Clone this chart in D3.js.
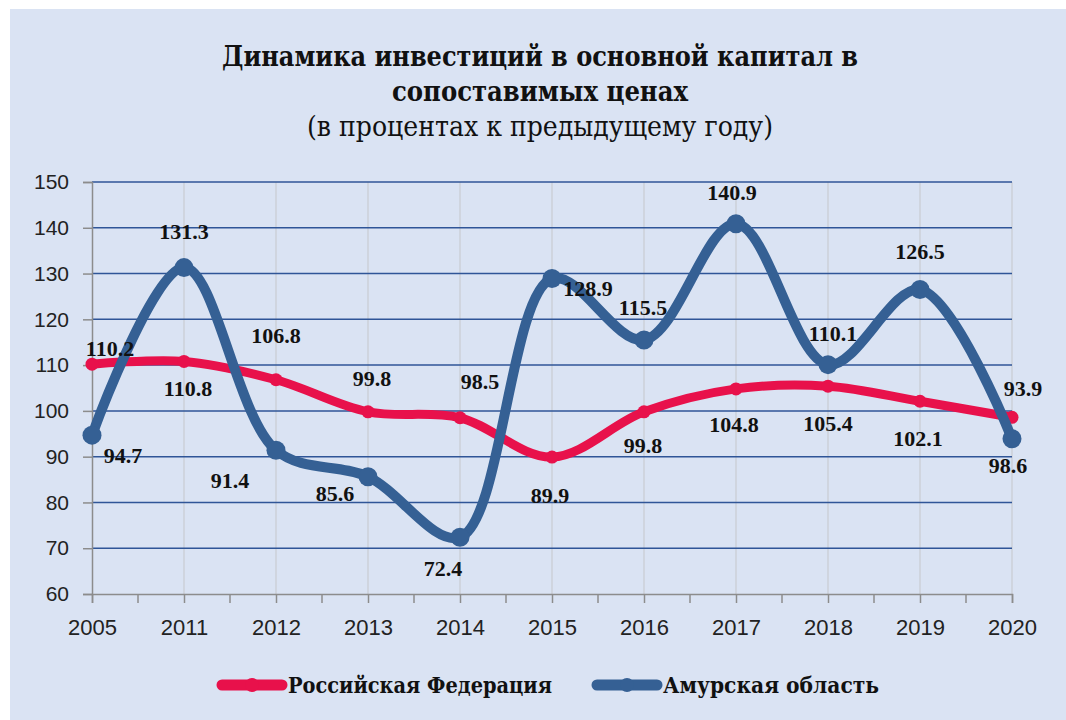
<!DOCTYPE html>
<html>
<head>
<meta charset="utf-8">
<script src="https://cdn.jsdelivr.net/npm/d3@7"></script>
<style>
  html, body { margin: 0; padding: 0; background: #fff; }
  svg { display: block; }
</style>
</head>
<body>
<svg id="chart" width="1066" height="720"></svg>
<script>
// данные
const years = ['2005', '2011', '2012', '2013', '2014', '2015', '2016', '2017', '2018', '2019', '2020'];
const rfValues = [110.2, 110.8, 106.8, 99.8, 98.5, 89.9, 99.8, 104.8, 105.4, 102.1, 98.6];
const amurValues = [94.7, 131.3, 91.4, 85.6, 72.4, 128.9, 115.5, 140.9, 110.1, 126.5, 93.9];
const yTicks = [60, 70, 80, 90, 100, 110, 120, 130, 140, 150];
const seriesNames = ['Российская Федерация', 'Амурская область'];

// смещения подписей (dx, dy) относительно точки
const rfLabelOffsets = [[18, -16], [4, 27], [0, -44], [4, -34], [20, -36], [-2, 38], [-1, 33], [-2, 35], [0, 37], [-2, 37], [-4, 48]];
const amurLabelOffsets = [[31, 20], [0, -36], [-46, 30], [-33, 16], [-17, 31], [36, 10], [-1, -33], [-4, -31], [5, -31], [0, -38], [11, -51]];

const cyrFont = '"DejaVu Serif Condensed", "DejaVu Serif", "Liberation Serif", serif';
const numFont = '"Liberation Serif", "Times New Roman", serif';

const svg = d3.select('#chart');
const W = 1066, H = 720;
const margin = { left: 92, right: 54, top: 182, bottom: 126 };

// фон
svg.append('rect')
    .attr('x', 10).attr('y', 9)
    .attr('width', W - 10).attr('height', H - 9)
    .attr('fill', '#dae3f3');

// заголовок
const titleLines = [
    { text: 'Динамика инвестиций в основной капитал в', y: 66, w: 636, bold: true },
    { text: 'сопоставимых ценах', y: 101, w: 296, bold: true },
    { text: '(в процентах к предыдущему году)', y: 136, w: 466, bold: false }
];
titleLines.forEach(l => {
    svg.append('text')
        .attr('x', 540).attr('y', l.y)
        .attr('text-anchor', 'middle')
        .attr('textLength', l.w)
        .attr('lengthAdjust', 'spacingAndGlyphs')
        .style('font-family', cyrFont)
        .style('font-size', '28px')
        .style('font-weight', l.bold ? 'bold' : 'normal')
        .style('fill', '#111')
        .text(l.text);
});

const x = d3.scalePoint()
    .domain(years)
    .range([margin.left, W - margin.right]);

const y = d3.scaleLinear()
    .domain([60, 150])
    .range([H - margin.bottom, margin.top]);

const g = svg.append('g');

// вертикальная сетка
g.selectAll('.vgrid')
    .data(years.slice(1))
    .enter().append('line')
    .attr('x1', d => x(d)).attr('x2', d => x(d))
    .attr('y1', y(150)).attr('y2', y(60))
    .attr('stroke', '#c9ccd2')
    .attr('stroke-width', 1.2);

// горизонтальная сетка
g.selectAll('.hgrid')
    .data(yTicks.slice(1))
    .enter().append('line')
    .attr('x1', x(years[0])).attr('x2', x(years[years.length - 1]))
    .attr('y1', d => y(d)).attr('y2', d => y(d))
    .attr('stroke', '#2f5597')
    .attr('stroke-width', 1.5);

// оси
const yAxis = d3.axisLeft(y).tickValues(yTicks).tickSize(9).tickPadding(14);
const yG = g.append('g')
    .attr('transform', `translate(${margin.left},0)`)
    .call(yAxis);
yG.select('.domain').attr('stroke', '#8c8c8c').attr('stroke-width', 1.5);
yG.selectAll('.tick line').attr('stroke', '#8c8c8c').attr('stroke-width', 1.5);
yG.selectAll('.tick text')
    .style('font-family', '"Liberation Sans", Arial, sans-serif')
    .style('font-size', '21px')
    .style('fill', '#222');

const xAxis = d3.axisBottom(x).tickSize(9).tickPadding(16);
const xG = g.append('g')
    .attr('transform', `translate(0,${y(60)})`)
    .call(xAxis);
xG.select('.domain').attr('stroke', '#8c8c8c').attr('stroke-width', 1.5);
xG.selectAll('.tick line').attr('stroke', '#8c8c8c').attr('stroke-width', 1.5);
xG.selectAll('.tick text')
    .style('font-family', '"Liberation Sans", Arial, sans-serif')
    .style('font-size', '22px')
    .style('fill', '#222');

// промежуточные засечки
const step = x.step();
g.selectAll('.minor')
    .data(years.slice(1))
    .enter().append('line')
    .attr('x1', d => x(d) - step / 2).attr('x2', d => x(d) - step / 2)
    .attr('y1', y(60)).attr('y2', y(60) + 9)
    .attr('stroke', '#8c8c8c')
    .attr('stroke-width', 1.5);

const line = d3.line()
    .x((d, i) => x(years[i]))
    .y(d => y(d))
    .curve(d3.curveCatmullRom.alpha(0.5));

const series = [
    { name: seriesNames[0], values: rfValues, color: '#e8114b', width: 9, r: 6.5, offsets: rfLabelOffsets },
    { name: seriesNames[1], values: amurValues, color: '#356094', width: 10, r: 9.5, offsets: amurLabelOffsets }
];

series.forEach(s => {
    g.append('path')
        .datum(s.values)
        .attr('d', line)
        .attr('fill', 'none')
        .attr('stroke', s.color)
        .attr('stroke-width', s.width)
        .attr('stroke-linecap', 'round')
        .attr('stroke-linejoin', 'round');
    g.selectAll(null)
        .data(s.values)
        .enter().append('circle')
        .attr('cx', (d, i) => x(years[i]))
        .attr('cy', d => y(d))
        .attr('r', s.r)
        .attr('fill', s.color);
});

// подписи данных
series.forEach(s => {
    g.selectAll(null)
        .data(s.values)
        .enter().append('text')
        .attr('x', (d, i) => x(years[i]) + s.offsets[i][0])
        .attr('y', (d, i) => y(d) + s.offsets[i][1])
        .attr('text-anchor', 'middle')
        .attr('dy', '0.35em')
        .style('font-family', numFont)
        .style('font-size', '22px')
        .style('font-weight', 'bold')
        .style('fill', '#111')
        .text(d => d.toFixed(1));
});

// легенда
const legendItems = [
    { name: seriesNames[0], color: '#e8114b', x: 218, tw: 264 },
    { name: seriesNames[1], color: '#356094', x: 593, tw: 216 }
];
const legendY = 685;
legendItems.forEach(l => {
    svg.append('line')
        .attr('x1', l.x + 4).attr('x2', l.x + 64)
        .attr('y1', legendY).attr('y2', legendY)
        .attr('stroke', l.color)
        .attr('stroke-width', 11)
        .attr('stroke-linecap', 'round');
    svg.append('circle')
        .attr('cx', l.x + 34).attr('cy', legendY)
        .attr('r', 7)
        .attr('fill', l.color);
    svg.append('text')
        .attr('x', l.x + 70).attr('y', legendY)
        .attr('dy', '0.35em')
        .attr('textLength', l.tw)
        .attr('lengthAdjust', 'spacingAndGlyphs')
        .style('font-family', cyrFont)
        .style('font-size', '23px')
        .style('font-weight', 'bold')
        .style('fill', '#111')
        .text(l.name);
});
</script>
</body>
</html>
